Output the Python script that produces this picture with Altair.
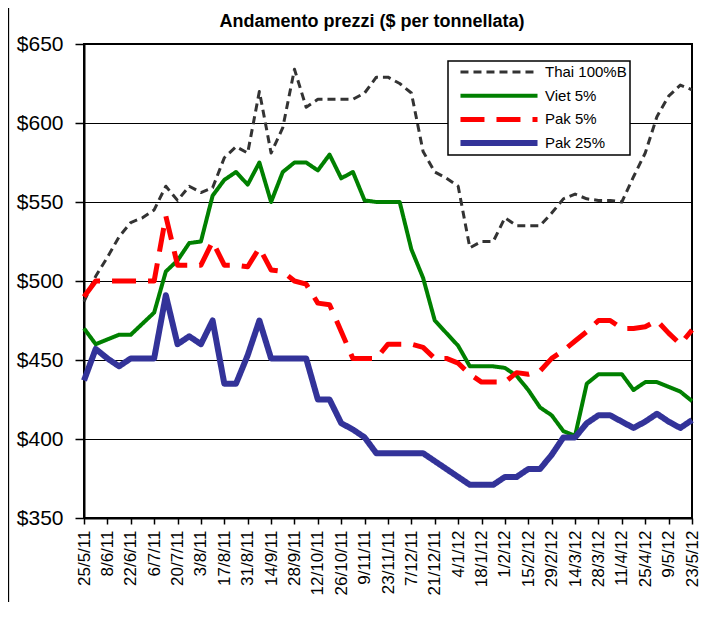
import altair as alt
import pandas as pd

# weekly categories (25/5/11 ... 23/5/12)
weeks = [d.strftime("%-d/%-m/%y") for d in pd.date_range("2011-05-25", periods=53, freq="7D")]

tick_labels = ["25/5/11", "8/6/11", "22/6/11", "6/7/11", "20/7/11", "3/8/11", "17/8/11",
               "31/8/11", "14/9/11", "28/9/11", "12/10/11", "26/10/11", "9/11/11",
               "23/11/11", "7/12/11", "21/12/11", "4/1/12", "18/1/12", "1/2/12",
               "15/2/12", "29/2/12", "14/3/12", "28/3/12", "11/4/12", "25/4/12",
               "9/5/12", "23/5/12"]

series_names = ["Thai 100%B", "Viet 5%", "Pak 5%", "Pak 25%"]

thai = [487, 503, 515, 528, 537, 540, 545, 560, 551, 560, 556, 559, 578, 585, 581, 620,
        581, 597, 634, 610, 615, 615, 615, 615, 619, 629, 629, 625, 619, 582, 569, 565,
        560, 521, 525, 525, 540, 535, 535, 535, 543, 552, 555, 552, 551, 551, 550, 566,
        581, 604, 617, 624, 621]
viet = [470, 460, 463, 466, 466, 473, 480, 506, 513, 524, 525, 554, 564, 569, 561, 575,
        550, 569, 575, 575, 570, 580, 565, 569, 551, 550, 550, 550, 520, 502, 475, 467,
        459, 446, 446, 446, 445, 440, 431, 420, 415, 405, 402, 435, 441, 441, 441, 431,
        436, 436, 433, 430, 424]
pak5 = [490, 500, 500, 500, 500, 500, 500, 541, 510, 510, 510, 525, 510, 510, 509, 521,
        507, 506, 500, 498, 486, 485, 468, 451, 451, 451, 460, 460, 460, 458, 451, 451,
        448, 441, 436, 436, 436, 442, 441, 443, 451, 456, 462, 468, 475, 475, 470, 470,
        471, 475, 467, 460, 469]
pak25 = [437, 457, 451, 446, 451, 451, 451, 491, 460, 465, 460, 475, 435, 435, 453, 475,
         451, 451, 451, 451, 425, 425, 410, 406, 401, 391, 391, 391, 391, 391, 386, 381,
         376, 371, 371, 371, 376, 376, 381, 381, 390, 401, 401, 410, 415, 415, 411, 407,
         411, 416, 411, 407, 412]

colors = ["#333333", "#008000", "#FF0000", "#333399"]
widths = [3, 6, 3.5, 7]
dashes = [[8, 5], [1, 0], [24, 12], [1, 0]]

rows = []
for name, vals in zip(series_names, [thai, viet, pak5, pak25]):
    for w, v in zip(weeks, vals):
        rows.append({"week": w, "series": name, "value": v})
df = pd.DataFrame(rows)

FONT = "Liberation Sans"

legend = alt.Legend(
    title=None, orient="none", legendX=364, legendY=17, direction="vertical",
    fillColor="white", strokeColor="black", padding=3,
    symbolType="M-0.19,0L9.44,0", symbolSize=256, clipHeight=16, rowPadding=7.7,
    labelOffset=72, labelFontSize=15, labelFont=FONT, labelColor="black",
    labelExpr="datum.label + '    '",
)

lines = alt.Chart(df).mark_line(strokeJoin="round").encode(
    x=alt.X("week:O", sort=weeks,
            scale=alt.Scale(type="point", padding=0),
            axis=alt.Axis(values=tick_labels, labelAngle=270, title=None,
                          labelFontSize=17, labelPadding=6, tickSize=6, grid=False)),
    y=alt.Y("value:Q",
            scale=alt.Scale(domain=[350, 650], nice=False, zero=False),
            axis=alt.Axis(values=[350, 400, 450, 500, 550, 600, 650],
                          labelExpr="'$' + datum.value", title=None,
                          labelFontSize=21, labelPadding=12, tickSize=9, grid=True,
                          gridColor="black", gridWidth=1.2)),
    color=alt.Color("series:N", scale=alt.Scale(domain=series_names, range=colors), legend=legend),
    strokeDash=alt.StrokeDash("series:N", scale=alt.Scale(domain=series_names, range=dashes), legend=legend),
    strokeWidth=alt.StrokeWidth("series:N", scale=alt.Scale(domain=series_names, range=widths), legend=legend),
)

frame = alt.Chart(pd.DataFrame({"a": [0]})).mark_rule(color="black", strokeWidth=1.3).encode(
    x=alt.value(-75.5), y=alt.value(-44), y2=alt.value(560)
)

chart = alt.layer(frame, lines).properties(
    width=608, height=474,
    autosize=alt.AutoSizeParams(type="none"),
    padding={"left": 76, "top": 36, "right": 10, "bottom": 84},
    title=alt.TitleParams("Andamento prezzi ($ per tonnellata)", fontSize=18, font=FONT,
                          fontWeight="bold", anchor="middle", dx=-16, offset=-46,
                          baseline="alphabetic", frame="group", color="black"),
).configure_view(stroke="black", strokeWidth=2).configure_axis(
    labelFont=FONT, labelColor="black", domainColor="black", domainWidth=2,
    tickColor="black", tickWidth=1.5,
).configure_legend(strokeWidth=1.5)

chart.save("out.html", embed_options={"renderer": "svg", "actions": False})
